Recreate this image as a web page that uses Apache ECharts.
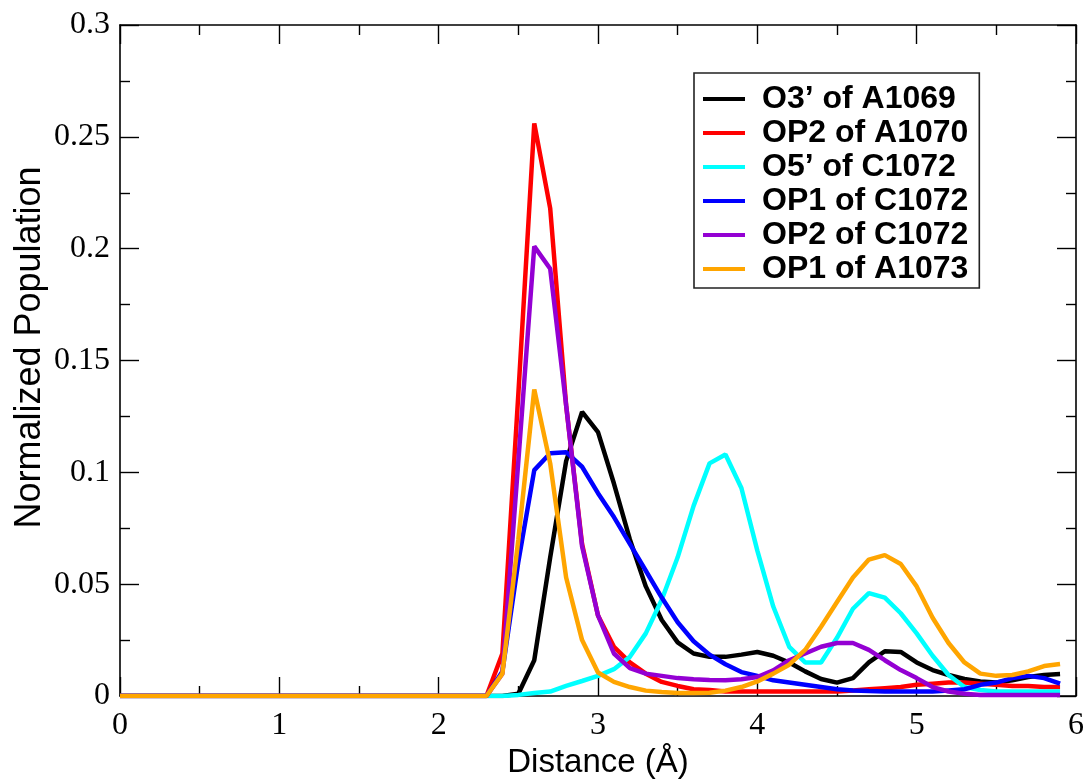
<!DOCTYPE html>
<html>
<head>
<meta charset="utf-8">
<script src="https://cdn.jsdelivr.net/npm/echarts@6/dist/echarts.min.js"></script>
<style>
html,body{margin:0;padding:0;background:#fff;}
#chart{width:1089px;height:780px;}
</style>
</head>
<body>
<div id="chart"></div>
<script>
// Distance values (Å)
const distance = [0,0.1,0.2,0.3,0.4,0.5,0.6,0.7,0.8,0.9,1.0,1.1,1.2,1.3,1.4,1.5,1.6,1.7,1.8,1.9,
  2.0,2.1,2.2,2.3,2.4,2.5,2.6,2.7,2.8,2.9,3.0,3.1,3.2,3.3,3.4,3.5,3.6,3.7,3.8,3.9,
  4.0,4.1,4.2,4.3,4.4,4.5,4.6,4.7,4.8,4.9,5.0,5.1,5.2,5.3,5.4,5.5,5.6,5.7,5.8,5.9];

const seriesNames = ["O3\u2019 of A1069","OP2 of A1070","O5\u2019 of C1072","OP1 of C1072","OP2 of C1072","OP1 of A1073"];

const o3A1069 = [0,0,0,0,0,0,0,0,0,0,0,0,0,0,0,0,0,0,0,0,0,0,0,
  0,0,0.001,0.016,0.062,0.105,0.127,0.118,0.095,0.07,0.049,0.034,0.024,0.019,0.0175,0.0175,0.0185,
  0.0197,0.018,0.015,0.011,0.0076,0.006,0.008,0.015,0.020,0.0197,0.015,0.0116,0.0094,0.0076,0.0065,0.006,0.007,0.0085,0.0094,0.0098];

const op2A1070 = [0,0,0,0,0,0,0,0,0,0,0,0,0,0,0,0,0,0,0,0,0,0,0,
  0,0.019,0.135,0.256,0.218,0.13,0.068,0.036,0.022,0.015,0.010,0.0063,0.0045,0.003,0.0027,0.002,0.002,
  0.002,0.002,0.002,0.002,0.002,0.002,0.0025,0.003,0.0035,0.004,0.005,0.0055,0.006,0.006,0.0055,0.005,0.0045,0.0045,0.004,0.004];

const o5C1072 = [0,0,0,0,0,0,0,0,0,0,0,0,0,0,0,0,0,0,0,0,0,0,0,
  0,0,0.0005,0.0013,0.002,0.0045,0.0067,0.009,0.012,0.0175,0.028,0.043,0.062,0.085,0.104,0.108,0.093,
  0.065,0.04,0.022,0.015,0.015,0.026,0.039,0.046,0.044,0.037,0.028,0.018,0.0094,0.004,0.0027,0.002,0.002,0.002,0.002,0.002];

const op1C1072 = [0,0,0,0,0,0,0,0,0,0,0,0,0,0,0,0,0,0,0,0,0,0,0,
  0,0.011,0.06,0.101,0.1085,0.109,0.1025,0.0907,0.08,0.068,0.056,0.044,0.033,0.0245,0.0185,0.0142,0.0107,
  0.009,0.007,0.006,0.005,0.004,0.003,0.0025,0.0022,0.002,0.002,0.002,0.002,0.0025,0.003,0.005,0.006,0.008,0.009,0.008,0.0055];

const op2C1072 = [0,0,0,0,0,0,0,0,0,0,0,0,0,0,0,0,0,0,0,0,0,0,0,
  0,0.01,0.105,0.201,0.191,0.13,0.067,0.036,0.019,0.0125,0.010,0.009,0.008,0.0075,0.0072,0.007,0.0075,
  0.0085,0.0115,0.016,0.019,0.022,0.0237,0.0237,0.0206,0.016,0.0116,0.008,0.004,0.002,0.001,0.0005,0.0005,0.0005,0.0005,0.0005,0.0005];

const op1A1073 = [0,0,0,0,0,0,0,0,0,0,0,0,0,0,0,0,0,0,0,0,0,0,0,
  0,0.01,0.07,0.137,0.104,0.053,0.025,0.0105,0.0063,0.004,0.0024,0.0018,0.0013,0.0013,0.0015,0.0024,0.004,
  0.0065,0.01,0.014,0.0206,0.031,0.042,0.053,0.061,0.063,0.059,0.049,0.035,0.0237,0.015,0.010,0.009,0.0094,0.011,0.0134,0.0143];

const xTicks = [0,1,2,3,4,5,6];
const yTicks = [0,0.05,0.1,0.15,0.2,0.25,0.3];

const colors = ["#000000","#ff0000","#00ffff","#0000ff","#9400d3","#ffa500"];
const allData = [o3A1069, op2A1070, o5C1072, op1C1072, op2C1072, op1A1073];

const chart = echarts.init(document.getElementById('chart'), null, {renderer:'canvas'});

const serifFont = '"Liberation Serif","Times New Roman",serif';
const sansFont = '"Liberation Sans",Arial,Helvetica,sans-serif';

function axisCommon(showLabels) {
  return {
    type: 'value',
    axisLine: {show: true, onZero: false, lineStyle: {color: '#000', width: 1.6}},
    axisTick: {show: true, inside: true, length: 19, lineStyle: {color: '#000', width: 1.4}},
    minorTick: {show: true, splitNumber: 2, length: 10, lineStyle: {color: '#000', width: 1.4}},
    splitLine: {show: false},
    minorSplitLine: {show: false},
    axisLabel: {show: showLabels}
  };
}

const option = {
  backgroundColor: '#ffffff',
  animation: false,
  color: colors,
  grid: {left: 120, right: 13, top: 25, bottom: 84, containLabel: false, outerBoundsMode: 'none'},
  xAxis: [
    Object.assign(axisCommon(true), {
      position: 'bottom', min: 0, max: 6, interval: 1,
      name: 'Distance (\u00c5)', nameLocation: 'middle', nameGap: 50,
      nameTextStyle: {fontFamily: sansFont, fontSize: 33, color: '#000'},
      axisLabel: {show: true, margin: 14, fontFamily: serifFont, fontSize: 32, color: '#000',
        formatter: v => xTicks.includes(v) ? String(v) : ''}
    }),
    Object.assign(axisCommon(false), {
      position: 'top', min: 0, max: 6, interval: 1
    })
  ],
  yAxis: [
    Object.assign(axisCommon(true), {
      position: 'left', min: 0, max: 0.3, interval: 0.05,
      name: 'Normalized Population', nameLocation: 'middle', nameGap: 72,
      nameMoveOverlap: false,
      nameTextStyle: {fontFamily: sansFont, fontSize: 36, color: '#000', padding: [0, 0, 0, 26]},
      axisLabel: {show: true, margin: 10, fontFamily: serifFont, fontSize: 32, color: '#000',
        formatter: v => String(+v.toFixed(3))}
    }),
    Object.assign(axisCommon(false), {
      position: 'right', min: 0, max: 0.3, interval: 0.05
    })
  ],
  legend: {
    orient: 'vertical',
    left: 694, top: 73,
    padding: [9, 11, 2, 9],
    itemGap: 0,
    icon: 'rect',
    itemWidth: 42, itemHeight: 4,
    backgroundColor: '#fff',
    borderColor: '#222', borderWidth: 1.6,
    textStyle: {fontFamily: sansFont, fontSize: 32, fontWeight: 'bold', color: '#000', lineHeight: 34,
      padding: [0, 0, 0, 12]},
    data: seriesNames
  },
  series: seriesNames.map((name, i) => ({
    name: name,
    type: 'line',
    xAxisIndex: 0, yAxisIndex: 0,
    showSymbol: false, symbol: 'none',
    data: distance.map((x, j) => [x, allData[i][j]]),
    lineStyle: {width: 4.5, color: colors[i]},
    itemStyle: {color: colors[i]},
    clip: true
  }))
};

chart.setOption(option);
</script>
</body>
</html>
